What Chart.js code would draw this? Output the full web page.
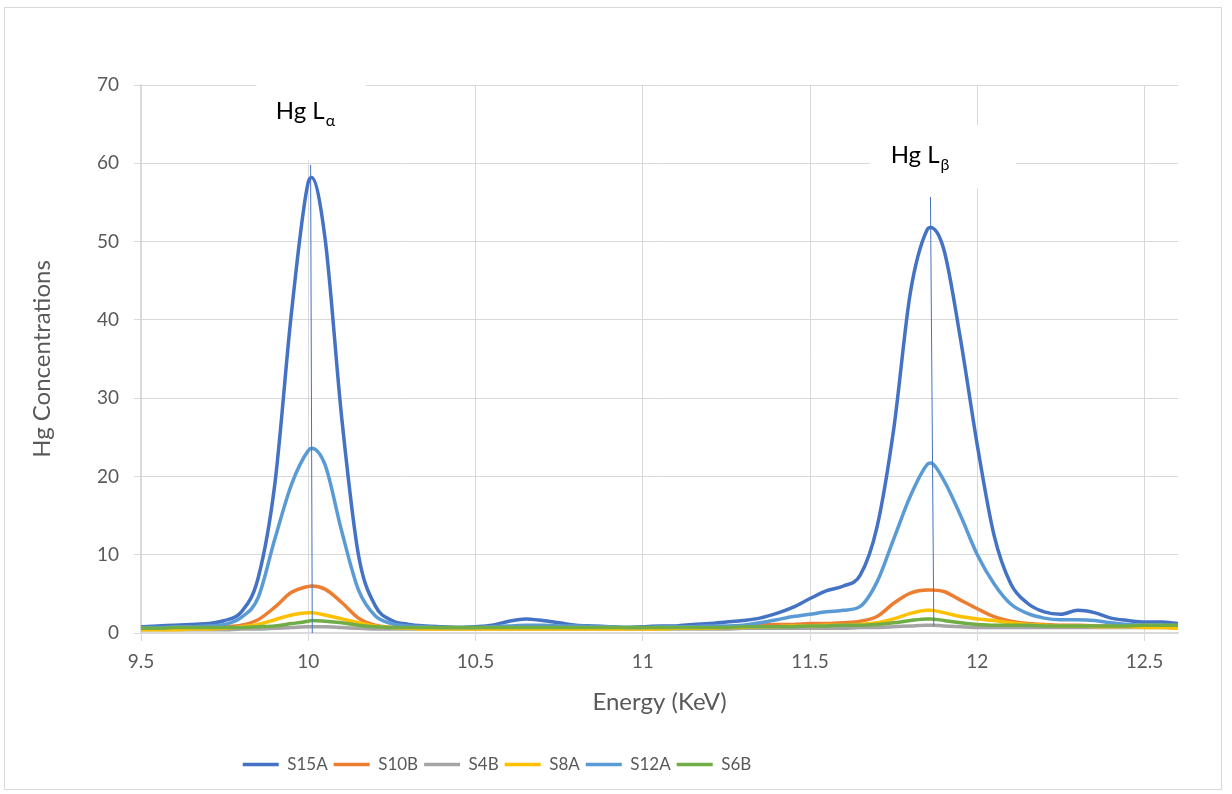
<!DOCTYPE html>
<html>
<head>
<meta charset="utf-8">
<script src="https://cdn.jsdelivr.net/npm/chart.js@4.4.0/dist/chart.umd.min.js"></script>
<style>
  body { margin: 0; background: #fff; }
  #wrap { width: 1232px; height: 794px; }
</style>
</head>
<body>
<div id="wrap"><canvas id="graphCanvas" width="1232" height="794"></canvas></div>
<script>
// energy axis (keV)
var energies = [9.50, 9.55, 9.60, 9.65, 9.70, 9.75, 9.80, 9.85, 9.90, 9.95,
    10.00, 10.01, 10.05, 10.10, 10.15, 10.20, 10.25, 10.30, 10.35, 10.40,
    10.45, 10.50, 10.55, 10.60, 10.65, 10.70, 10.75, 10.80, 10.85, 10.90,
    10.95, 11.00, 11.05, 11.10, 11.15, 11.20, 11.25, 11.30, 11.35, 11.40,
    11.45, 11.50, 11.55, 11.60, 11.65, 11.70, 11.75, 11.80, 11.85, 11.86,
    11.90, 11.95, 12.00, 12.05, 12.10, 12.15, 12.20, 12.25, 12.30, 12.35,
    12.40, 12.45, 12.50, 12.55, 12.60];

var s15a = [0.8, 0.9, 1.0, 1.1, 1.2, 1.6, 2.7, 7.0, 19.0, 41.0,
    57.6, 58.2, 50.5, 27.5, 10.0, 3.5, 1.6, 1.1, 0.9, 0.8,
    0.7, 0.8, 1.0, 1.5, 1.8, 1.6, 1.3, 1.0, 0.9, 0.8,
    0.7, 0.8, 0.9, 0.9, 1.1, 1.2, 1.4, 1.6, 1.9, 2.5,
    3.3, 4.4, 5.4, 6.0, 7.4, 13.5, 26.0, 43.5, 51.5, 51.8,
    49.0, 37.5, 24.0, 12.5, 6.3, 3.8, 2.7, 2.4, 2.9, 2.6,
    1.9, 1.6, 1.4, 1.4, 1.2];
var s10b = [0.6, 0.6, 0.6, 0.6, 0.7, 0.8, 1.0, 1.7, 3.3, 5.2,
    5.95, 6.0, 5.6, 3.9, 1.9, 1.0, 0.7, 0.6, 0.6, 0.6,
    0.6, 0.6, 0.6, 0.6, 0.6, 0.6, 0.6, 0.6, 0.6, 0.6,
    0.6, 0.6, 0.6, 0.7, 0.7, 0.8, 0.8, 0.9, 1.0, 1.1,
    1.1, 1.2, 1.2, 1.3, 1.5, 2.1, 3.8, 5.1, 5.5, 5.5,
    5.3, 4.2, 3.1, 2.1, 1.5, 1.2, 1.1, 1.0, 1.0, 0.9,
    0.9, 0.9, 0.9, 0.9, 0.9];
var s4b = [0.4, 0.4, 0.4, 0.4, 0.4, 0.4, 0.5, 0.5, 0.6, 0.7,
    0.8, 0.8, 0.8, 0.7, 0.6, 0.5, 0.5, 0.5, 0.5, 0.5,
    0.5, 0.5, 0.5, 0.5, 0.5, 0.5, 0.5, 0.5, 0.5, 0.5,
    0.5, 0.5, 0.5, 0.5, 0.5, 0.5, 0.5, 0.6, 0.6, 0.6,
    0.6, 0.6, 0.6, 0.6, 0.7, 0.7, 0.8, 0.9, 1.0, 1.0,
    0.9, 0.8, 0.7, 0.7, 0.7, 0.7, 0.7, 0.7, 0.7, 0.7,
    0.7, 0.7, 0.7, 0.7, 0.7];
var s8a = [0.4, 0.4, 0.4, 0.5, 0.5, 0.6, 0.8, 1.1, 1.7, 2.3,
    2.6, 2.6, 2.3, 1.8, 1.3, 0.9, 0.7, 0.6, 0.5, 0.5,
    0.5, 0.5, 0.5, 0.5, 0.5, 0.5, 0.5, 0.5, 0.5, 0.5,
    0.5, 0.5, 0.5, 0.6, 0.6, 0.6, 0.7, 0.7, 0.8, 0.8,
    0.9, 0.9, 1.0, 1.0, 1.1, 1.3, 1.8, 2.5, 2.9, 2.9,
    2.6, 2.1, 1.8, 1.6, 1.3, 1.1, 1.0, 0.9, 0.9, 0.8,
    0.8, 0.8, 0.7, 0.7, 0.6];
var s12a = [0.7, 0.7, 0.8, 0.8, 0.9, 1.1, 2.0, 4.5, 12.0, 19.0,
    23.3, 23.6, 21.5, 13.0, 5.5, 2.2, 1.2, 0.9, 0.8, 0.7,
    0.7, 0.7, 0.8, 0.9, 1.0, 1.0, 0.9, 0.9, 0.8, 0.8,
    0.7, 0.7, 0.8, 0.8, 0.8, 0.9, 0.9, 1.0, 1.3, 1.7,
    2.1, 2.4, 2.7, 2.9, 3.4, 6.5, 12.0, 17.5, 21.5, 21.7,
    19.5, 15.0, 10.0, 6.3, 3.7, 2.5, 1.9, 1.7, 1.7, 1.6,
    1.3, 1.1, 1.0, 1.0, 1.0];
var s6b = [0.6, 0.6, 0.7, 0.7, 0.7, 0.7, 0.7, 0.8, 0.9, 1.2,
    1.5, 1.6, 1.5, 1.3, 1.0, 0.8, 0.7, 0.7, 0.7, 0.7,
    0.7, 0.7, 0.7, 0.7, 0.7, 0.7, 0.7, 0.7, 0.7, 0.7,
    0.7, 0.7, 0.7, 0.7, 0.7, 0.7, 0.7, 0.8, 0.8, 0.8,
    0.8, 0.9, 0.9, 1.0, 1.0, 1.1, 1.3, 1.6, 1.8, 1.8,
    1.6, 1.3, 1.1, 1.0, 1.0, 1.0, 0.9, 0.9, 0.9, 0.9,
    0.9, 0.9, 1.0, 1.0, 1.0];

var seriesNames = ['S15A', 'S10B', 'S4B', 'S8A', 'S12A', 'S6B'];
var seriesData = [s15a, s10b, s4b, s8a, s12a, s6b];
var seriesColors = ['#4472C4', '#ED7D31', '#A5A5A5', '#FFC000', '#5B9BD5', '#70AD47'];

// peak marker lines (energy, concentration)
var alphaLineX = [10.007, 10.012];
var alphaLineY = [59.8, 0.0];
var betaLineX = [11.860, 11.870];
var betaLineY = [55.7, 0.9];

// peak labels
var peakLabels = ['Hg L', 'Hg L'];
var peakSubs = ['\u03b1', '\u03b2'];
var peakTextX = [9.903, 11.741];
var peakTextY = [65.7, 60.0];
var peakBoxX = [[9.845, 10.172], [11.679, 12.115]];
var peakBoxY = [[73.2, 60.4], [64.9, 56.8]];

var FONT = 'Lato, "Open Sans", sans-serif';
var GREY = '#595959';
var GRID = '#d9d9d9';

function toPoints(xs, ys) {
    var pts = [];
    for (var i = 0; i < xs.length; i++) {
        pts.push({ x: xs[i], y: ys[i] });
    }
    return pts;
}

var datasets = [];
for (var i = 0; i < seriesNames.length; i++) {
    datasets.push({
        label: seriesNames[i],
        data: toPoints(energies, seriesData[i]),
        borderColor: seriesColors[i],
        backgroundColor: seriesColors[i],
        borderWidth: 3.5,
        pointRadius: 0,
        cubicInterpolationMode: 'monotone',
        order: seriesNames.length - i
    });
}
datasets.push({
    label: 'lineA',
    data: toPoints(alphaLineX, alphaLineY),
    borderColor: '#4472C4', borderWidth: 1, pointRadius: 0, tension: 0, order: -1
});
datasets.push({
    label: 'lineB',
    data: toPoints(betaLineX, betaLineY),
    borderColor: '#4472C4', borderWidth: 1, pointRadius: 0, tension: 0, order: -1
});

var framePlugin = {
    id: 'frame',
    beforeDraw: function(chart) {
        var ctx = chart.ctx;
        ctx.save();
        ctx.fillStyle = '#fff';
        ctx.fillRect(0, 0, chart.width, chart.height);
        ctx.strokeStyle = GRID;
        ctx.lineWidth = 1;
        ctx.strokeRect(4.5, 7.5, 1217, 782);
        ctx.restore();
    },
    afterLayout: function(chart) {
        // move the legend to where the original sits
        var lg = chart.legend;
        var dx = 497 - (lg.left + lg.right) / 2;
        lg.left += dx;
        lg.right += dx;
    }
};

var peakLabelPlugin = {
    id: 'peakLabels',
    beforeDatasetsDraw: function(chart) {
        var ctx = chart.ctx;
        var xs = chart.scales.x, ys = chart.scales.y;
        ctx.save();
        for (var i = 0; i < peakLabels.length; i++) {
            var x0 = xs.getPixelForValue(peakBoxX[i][0]);
            var x1 = xs.getPixelForValue(peakBoxX[i][1]);
            var y0 = ys.getPixelForValue(peakBoxY[i][0]);
            var y1 = ys.getPixelForValue(peakBoxY[i][1]);
            ctx.fillStyle = '#fff';
            ctx.fillRect(x0, y0, x1 - x0, y1 - y0);

            var tx = xs.getPixelForValue(peakTextX[i]);
            var ty = ys.getPixelForValue(peakTextY[i]);
            ctx.fillStyle = '#000';
            ctx.textBaseline = 'alphabetic';
            ctx.textAlign = 'left';
            ctx.font = '24px ' + FONT;
            ctx.fillText(peakLabels[i], tx, ty);
            var w = ctx.measureText(peakLabels[i]).width;
            ctx.font = '16px ' + FONT;
            ctx.fillText(peakSubs[i], tx + w + 1, ty + 7);
        }
        ctx.restore();
    }
};

var graphTarget = document.getElementById('graphCanvas');

var lineGraph = new Chart(graphTarget, {
    type: 'line',
    data: { datasets: datasets },
    plugins: [framePlugin, peakLabelPlugin],
    options: {
        responsive: false,
        animation: false,
        layout: { padding: { left: 25, right: 54, top: 85, bottom: 11 } },
        plugins: {
            tooltip: { enabled: false },
            legend: {
                position: 'bottom',
                labels: {
                    color: GREY,
                    font: { family: FONT, size: 17 },
                    usePointStyle: true,
                    pointStyle: 'line',
                    pointStyleWidth: 36,
                    padding: 6,
                    filter: function(item) { return item.datasetIndex < 6; },
                    sort: function(a, b) { return a.datasetIndex - b.datasetIndex; }
                }
            }
        },
        scales: {
            x: {
                type: 'linear',
                min: 9.5,
                max: 12.6,
                afterFit: function(scale) { scale.height = 117; },
                ticks: {
                    stepSize: 0.5,
                    includeBounds: false,
                    color: GREY,
                    padding: 9,
                    maxRotation: 0,
                    font: { family: FONT, size: 19 },
                    callback: function(v) { return String(Math.round(v * 10) / 10); }
                },
                grid: { color: GRID, lineWidth: 1, drawTicks: true, tickLength: 8 },
                border: { color: GRID, width: 1.5 },
                title: {
                    display: true,
                    text: 'Energy (KeV)',
                    color: GREY,
                    font: { family: FONT, size: 24 },
                    padding: { top: 33, bottom: 33 }
                }
            },
            y: {
                min: 0,
                max: 70,
                afterFit: function(scale) { scale.width = 116; },
                ticks: {
                    stepSize: 10,
                    color: GREY,
                    padding: 15,
                    font: { family: FONT, size: 19 }
                },
                grid: { color: GRID, lineWidth: 1, drawTicks: true, tickLength: 7 },
                border: { display: true, color: GRID, width: 1.5 },
                title: {
                    display: true,
                    text: 'Hg Concentrations',
                    color: GREY,
                    font: { family: FONT, size: 24 },
                    padding: { top: 3, bottom: 3 }
                }
            }
        }
    }
});
</script>
</body>
</html>
